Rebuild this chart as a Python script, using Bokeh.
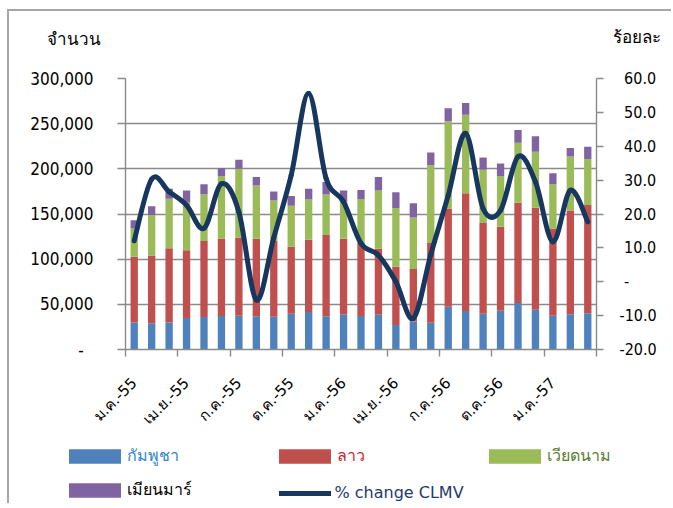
import math
from bokeh.plotting import figure
from bokeh.models import (LinearAxis, Range1d, FixedTicker, NumeralTickFormatter,
                          Legend, LegendItem, Label, ColumnDataSource)
from bokeh.embed import file_html
from bokeh.resources import INLINE

# ---------------- data ----------------
months = ["ม.ค.-55", "ก.พ.-55", "มี.ค.-55", "เม.ย.-55", "พ.ค.-55", "มิ.ย.-55",
          "ก.ค.-55", "ส.ค.-55", "ก.ย.-55", "ต.ค.-55", "พ.ย.-55", "ธ.ค.-55",
          "ม.ค.-56", "ก.พ.-56", "มี.ค.-56", "เม.ย.-56", "พ.ค.-56", "มิ.ย.-56",
          "ก.ค.-56", "ส.ค.-56", "ก.ย.-56", "ต.ค.-56", "พ.ย.-56", "ธ.ค.-56",
          "ม.ค.-57", "ก.พ.-57", "มี.ค.-57"]
cambodia = [30000, 29000, 30000, 35000, 36000, 37000, 37400, 36700, 36300, 39600,
            41500, 36700, 39000, 37000, 38500, 27000, 31000, 29600, 47400, 42600,
            39600, 43000, 51500, 44000, 37400, 39000, 40000]
laos = [72600, 75000, 82000, 75000, 84000, 85600, 86300, 85900, 83700, 74100,
        80000, 90000, 83600, 81000, 73000, 64500, 58000, 88400, 108600, 130400,
        100400, 93000, 111000, 113000, 96300, 115000, 120000]
vietnam = [31400, 45000, 55000, 53000, 52000, 69400, 76300, 58900, 45000, 45300,
           44500, 44800, 41100, 48700, 64500, 65200, 57000, 86000, 96600, 87000,
           59000, 56000, 66500, 62000, 49300, 59700, 51000]
myanmar = [9000, 9500, 11000, 13000, 11000, 9000, 10000, 9500, 10000, 11000,
           12000, 14000, 12300, 10000, 15000, 17300, 16000, 14000, 14400, 13000,
           13600, 14000, 14000, 17000, 12000, 9300, 13500]
pct_change = [12.1, 30.3, 26.6, 22.6, 15.8, 28.9, 20.6, -5.4, 13.0, 31.5,
              55.6, 30.5, 23.6, 11.3, 7.8, 0.0, -10.8, 8.0, 25.5, 43.8,
              21.6, 21.1, 36.9, 29.5, 11.8, 27.0, 17.7]
left_ticks = [0, 50000, 100000, 150000, 200000, 250000, 300000]
right_ticks = [-20, -10, 0, 10, 20, 30, 40, 50, 60]
series_names = ["กัมพูชา", "ลาว", "เวียดนาม", "เมียนมาร์"]
line_name = "% change CLMV"
left_title = "จำนวน"
right_title = "ร้อยละ"

# ---------------- styles ----------------
C_BLUE, C_RED, C_GREEN, C_PURPLE = "#4F81BD", "#C0504D", "#9BBB59", "#8064A2"
C_LINE = "#17375E"
GRID = "#8A8A8A"
NUM_FONT = "DejaVu Sans Condensed"
FONT = "DejaVu Sans"
W = 664
nb = "\u00a0"
BORDER = "2px solid #A6A6A6"

n = len(months)
xs = list(range(n))
src = ColumnDataSource(dict(x=xs, k=cambodia, l=laos, v=vietnam, m=myanmar))

# ---------------- header (axis titles) ----------------
head = figure(width=W, height=49, output_backend="svg", toolbar_location=None,
              x_range=Range1d(0, 1), y_range=Range1d(0, 1), min_border=0,
              x_axis_location=None, y_axis_location=None)
head.outline_line_color = None
head.grid.visible = False
head.styles = {"margin-left": "7px", "margin-top": "9px",
               "border-left": BORDER, "border-top": BORDER}
head.add_layout(Label(x=37, y=22, x_units="screen", y_units="screen", text=left_title,
                      text_font=FONT, text_font_size="17px", text_baseline="middle",
                      text_color="#000000"))
head.add_layout(Label(x=603, y=24, x_units="screen", y_units="screen", text=right_title,
                      text_font=FONT, text_font_size="17px", text_baseline="middle",
                      text_color="#000000"))

# ---------------- main chart ----------------
p = figure(width=W, height=380, output_backend="svg", toolbar_location=None,
           x_range=Range1d(-0.5, n - 0.5), y_range=Range1d(0, 300000),
           x_axis_location=None, y_axis_location="left",
           min_border_left=116, min_border_right=77, min_border_top=20,
           min_border_bottom=89)
p.styles = {"margin-left": "7px", "border-left": BORDER}
p.outline_line_color = None
p.extra_y_ranges = {"pct": Range1d(-20, 60)}
p.xgrid.visible = False
p.ygrid.grid_line_color = GRID
p.ygrid.grid_line_width = 1.4
p.ygrid.ticker = FixedTicker(ticks=left_ticks)

ly = p.yaxis[0]
ly.ticker = FixedTicker(ticks=left_ticks)
ly.formatter = NumeralTickFormatter(format="0,0")
ly.major_label_overrides = {0: "-" + nb * 2}
ly.major_tick_out = 8
ly.major_tick_in = 0
ly.minor_tick_line_color = None
ly.axis_line_color = GRID
ly.axis_line_width = 1.4
ly.major_tick_line_color = GRID
ly.major_tick_line_width = 1.4
ly.major_label_standoff = 24
ly.major_label_text_font = NUM_FONT
ly.major_label_text_font_size = "17px"
ly.major_label_text_color = "#000000"

ry = LinearAxis(y_range_name="pct", ticker=FixedTicker(ticks=right_ticks),
                formatter=NumeralTickFormatter(format="0.0"),
                major_label_overrides={t: (nb + ("-" if t == 0 else "%.1f" % t)) if t >= 0 else "%.1f" % t
                                       for t in right_ticks})
ry.major_tick_out = 7
ry.major_tick_in = 0
ry.minor_tick_line_color = None
ry.axis_line_color = GRID
ry.axis_line_width = 1.4
ry.major_tick_line_color = GRID
ry.major_tick_line_width = 1.4
ry.major_label_standoff = 16
ry.major_label_text_font = NUM_FONT
ry.major_label_text_font_size = "16px"
ry.major_label_text_color = "#000000"
p.add_layout(ry, "right")

# x axis: tick marks at quarter boundaries
bounds = [i - 0.5 for i in range(0, n + 1, 3)]
ax_ticks = LinearAxis(ticker=FixedTicker(ticks=bounds))
ax_ticks.major_label_text_font_size = "1px"
ax_ticks.major_label_text_color = None
ax_ticks.major_label_standoff = 0
ax_ticks.major_tick_out = 7
ax_ticks.major_tick_in = 0
ax_ticks.minor_tick_line_color = None
ax_ticks.axis_line_color = GRID
ax_ticks.axis_line_width = 1.4
ax_ticks.major_tick_line_color = GRID
ax_ticks.major_tick_line_width = 1.4
p.add_layout(ax_ticks, "below")

label_pos = list(range(0, n, 3))
ax_lab = LinearAxis(ticker=FixedTicker(ticks=label_pos),
                    major_label_overrides={i: months[i] for i in label_pos})
ax_lab.axis_line_color = None
ax_lab.major_tick_line_color = None
ax_lab.minor_tick_line_color = None
ax_lab.major_tick_out = 0
ax_lab.major_label_standoff = 24
ax_lab.major_label_orientation = math.pi / 4
ax_lab.major_label_text_font = FONT
ax_lab.major_label_text_font_size = "15px"
ax_lab.major_label_text_color = "#000000"
p.add_layout(ax_lab, "below")

# stacked bars
bars = p.vbar_stack(["k", "l", "v", "m"], x="x", width=0.42, source=src,
                    fill_color=[C_BLUE, C_RED, C_GREEN, C_PURPLE], line_color=None)

# smoothed line (Catmull-Rom as cubic Bezier segments through the data points)
x0, y0, x1, y1, cx0, cy0, cx1, cy1 = [], [], [], [], [], [], [], []
for i in range(n - 1):
    ip = max(i - 1, 0)
    inn = min(i + 2, n - 1)
    x0.append(xs[i]); y0.append(pct_change[i])
    x1.append(xs[i + 1]); y1.append(pct_change[i + 1])
    cx0.append(xs[i] + (xs[i + 1] - xs[ip]) / 6)
    cy0.append(pct_change[i] + (pct_change[i + 1] - pct_change[ip]) / 6)
    cx1.append(xs[i + 1] - (xs[inn] - xs[i]) / 6)
    cy1.append(pct_change[i + 1] - (pct_change[inn] - pct_change[i]) / 6)
p.bezier(x0=x0, y0=y0, x1=x1, y1=y1, cx0=cx0, cy0=cy0, cx1=cx1, cy1=cy1,
         y_range_name="pct", line_color=C_LINE, line_width=5,
         line_cap="round", line_join="round")

# ---------------- legend strip ----------------
leg = figure(width=W, height=65, output_backend="svg", toolbar_location=None,
             x_range=Range1d(0, 1), y_range=Range1d(0, 1), min_border=0,
             x_axis_location=None, y_axis_location=None)
leg.styles = {"margin-left": "7px", "border-left": BORDER}
leg.outline_line_color = None
leg.grid.visible = False
# legend proxies: one off-range element each, so the legend has a glyph to draw
swatches = [leg.vbar(x=[-5], top=[-5], width=0.1, fill_color=c, line_color=None)
            for c in (C_BLUE, C_RED, C_GREEN, C_PURPLE)]
line_sw = leg.line(x=[-5, -4], y=[-5, -5], line_color=C_LINE, line_width=5,
                   line_cap="round")


def add_legend(label, renderer, vx, vy, color, gw, gh, standoff):
    lg = Legend(items=[LegendItem(label=label, renderers=[renderer])],
                location=(vx, vy), orientation="horizontal",
                label_text_color=color, label_text_font=FONT,
                label_text_font_size="16px", glyph_width=gw, glyph_height=gh,
                label_height=gh, label_standoff=standoff, padding=0, margin=0,
                spacing=0, border_line_color=None, background_fill_alpha=0)
    leg.add_layout(lg)


add_legend(series_names[0], swatches[0], 52.5, 35, "#2F86CC", 65, 18, 0)
add_legend(series_names[1], swatches[1], 262.5, 35, "#C8282D", 65, 18, 0)
add_legend(series_names[2], swatches[2], 472.5, 35, "#5A7D30", 65, 18, 0)
add_legend(series_names[3], swatches[3], 52.5, 1, "#000000", 65, 18, 0)
add_legend(line_name, line_sw, 269.5, 1, "#1F3A6E", 52, 18, 4)

open("out.html", "w").write(file_html([head, p, leg], INLINE))
